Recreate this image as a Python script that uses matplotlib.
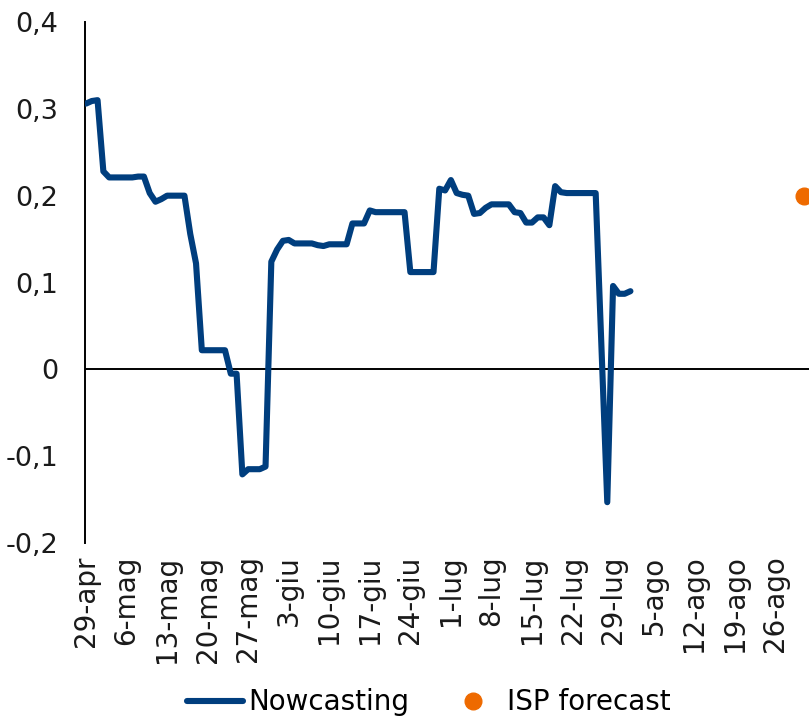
import matplotlib
matplotlib.use("Agg")
import matplotlib.pyplot as plt
import numpy as np
import pandas as pd

# ---- data ----
start_date = "2019-04-29"
end_date = "2019-08-31"
nowcasting = [
    0.306, 0.309, 0.310, 0.228, 0.221, 0.221, 0.221, 0.221, 0.221, 0.222,
    0.222, 0.203, 0.193, 0.196, 0.200, 0.200, 0.200, 0.200, 0.156, 0.122,
    0.022, 0.022, 0.022, 0.022, 0.022, -0.005, -0.005, -0.121, -0.115, -0.115,
    -0.115, -0.112, 0.124, 0.138, 0.148, 0.149, 0.145, 0.145, 0.145, 0.145,
    0.143, 0.142, 0.144, 0.144, 0.144, 0.144, 0.168, 0.168, 0.168, 0.183,
    0.181, 0.181, 0.181, 0.181, 0.181, 0.181, 0.112, 0.112, 0.112, 0.112,
    0.112, 0.208, 0.206, 0.218, 0.203, 0.201, 0.200, 0.179, 0.180, 0.186,
    0.190, 0.190, 0.190, 0.190, 0.181, 0.180, 0.169, 0.169, 0.175, 0.175,
    0.166, 0.211, 0.204, 0.203, 0.203, 0.203, 0.203, 0.203, 0.203, 0.025,
    -0.153, 0.096, 0.087, 0.087, 0.090,
]
isp_forecast_date = "2019-08-31"
isp_forecast_value = 0.2

tick_labels = ["29-apr", "6-mag", "13-mag", "20-mag", "27-mag", "3-giu", "10-giu",
               "17-giu", "24-giu", "1-lug", "8-lug", "15-lug", "22-lug", "29-lug",
               "5-ago", "12-ago", "19-ago", "26-ago"]
y_ticks = [-0.2, -0.1, 0.0, 0.1, 0.2, 0.3, 0.4]
y_tick_labels = ["-0,2", "-0,1", "0", "0,1", "0,2", "0,3", "0,4"]

# ---- figure ----
plt.rcParams['font.family'] = ['DejaVu Sans']
W, H = 809, 721
fig = plt.figure(figsize=(W / 100, H / 100), dpi=100)
ax = fig.add_axes([85 / W, 1 - 543 / H, 1 - 85 / W, (543 - 22) / H])

dates = pd.date_range(start_date, end_date, freq="D")
pos = np.arange(len(dates))
now_pos = pos[:len(nowcasting)]
isp_pos = dates.get_loc(pd.Timestamp(isp_forecast_date))

blue = "#003e7e"
orange = "#ee6a00"
ax.plot(now_pos, nowcasting, color=blue, lw=4.4, solid_joinstyle="round",
        solid_capstyle="round", label="Nowcasting", zorder=3)
ax.plot([isp_pos], [isp_forecast_value], linestyle="none", marker="o",
        markersize=12, color=orange, label="ISP forecast", zorder=4, clip_on=False)

ax.axhline(0, color="black", lw=1.4, zorder=2)

ax.set_ylim(-0.2, 0.4)
ax.set_xlim(-0.17, len(dates) - 0.17)
ax.set_yticks(y_ticks)
ax.set_yticklabels(y_tick_labels)
ax.set_xticks(pos[::7][:len(tick_labels)])
ax.set_xticklabels(tick_labels, rotation=90)

for s in ["top", "right", "bottom"]:
    ax.spines[s].set_visible(False)
ax.spines["left"].set_linewidth(1.4)
ax.spines["left"].set_color("black")

ax.tick_params(axis="y", length=0, pad=19, labelsize=19.5, colors="#1a1a1a")
ax.tick_params(axis="x", length=0, pad=9, labelsize=20, colors="#1a1a1a")

fig.legend(loc="center", bbox_to_anchor=(0.53, 0.026), ncol=2, frameon=False,
           fontsize=20, handlelength=2.0, handletextpad=0.2, columnspacing=1.3,
           borderpad=0.1)

fig.savefig("out.png", dpi=100)
